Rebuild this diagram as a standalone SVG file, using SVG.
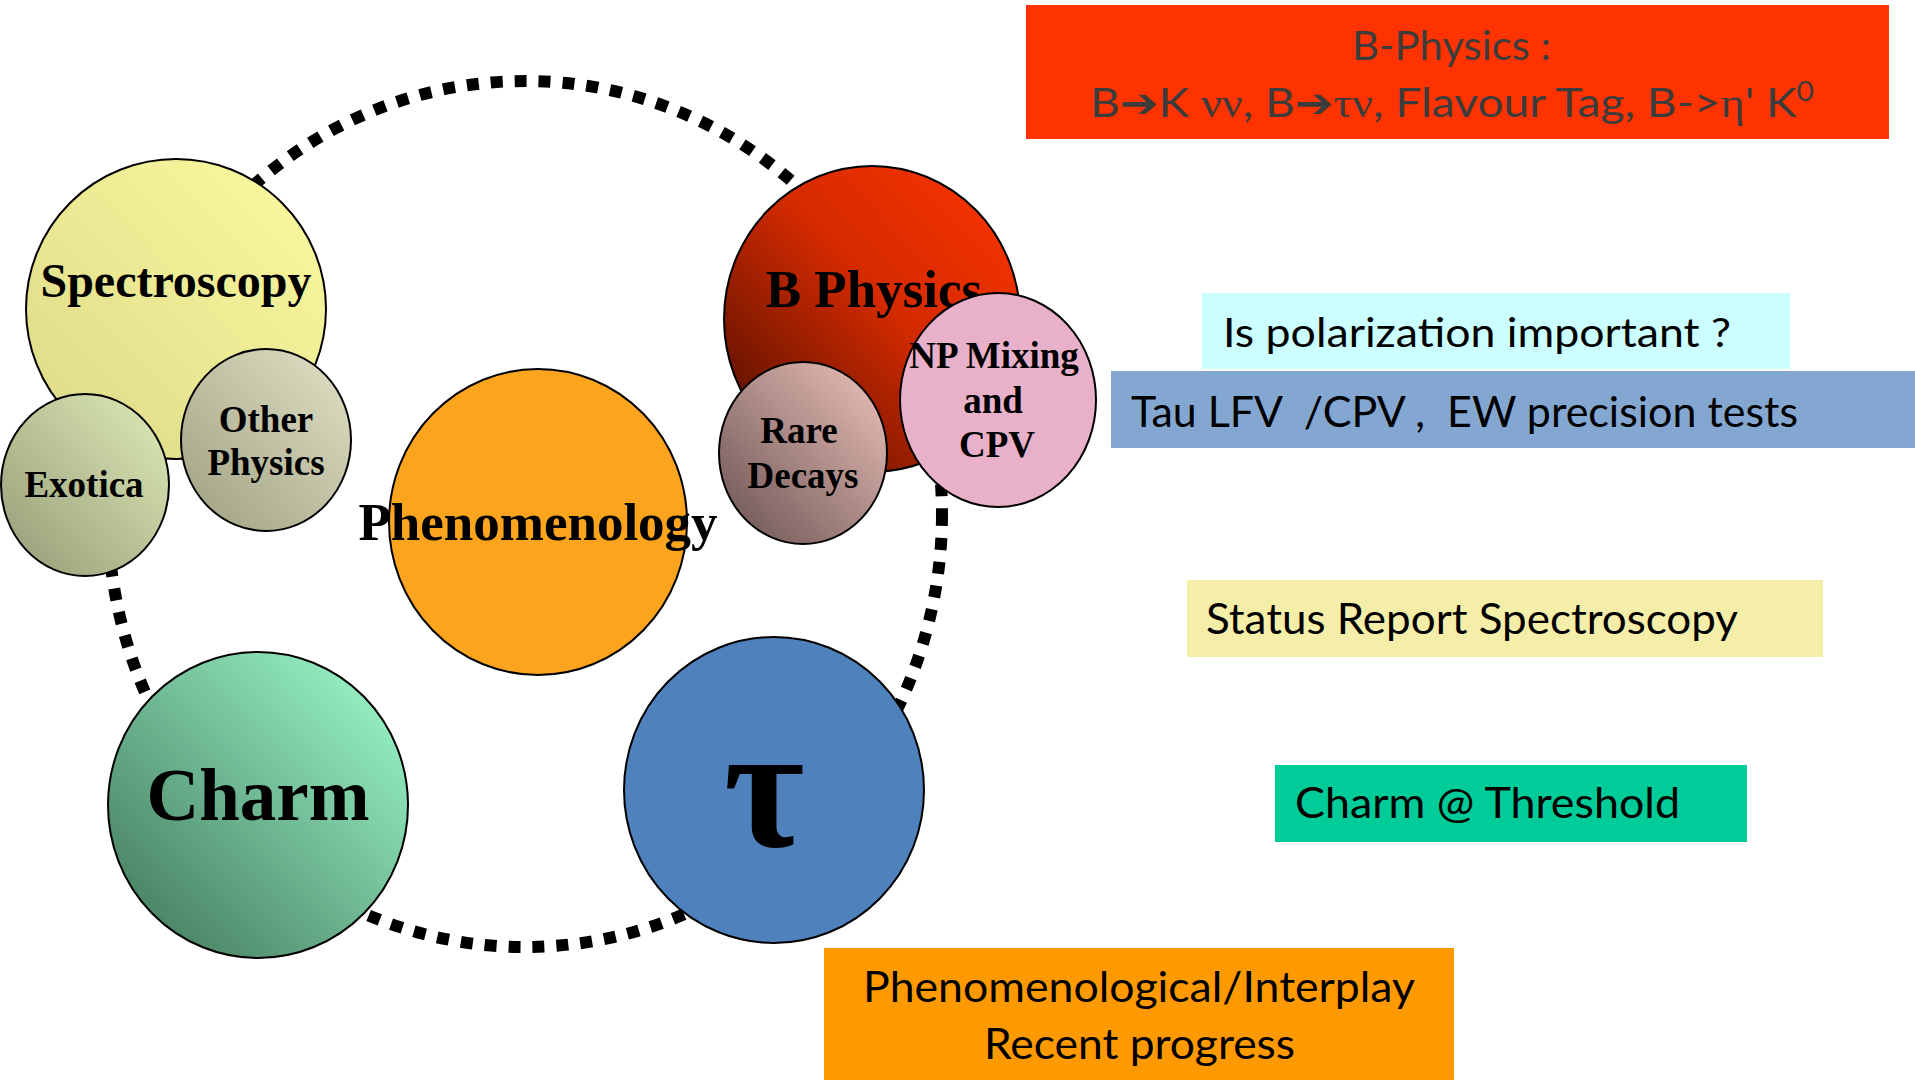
<svg xmlns="http://www.w3.org/2000/svg" width="1915" height="1080" viewBox="0 0 1915 1080">
<style>
.node{stroke:#000;stroke-width:2}
.ct{font-family:"Liberation Serif","Times New Roman",serif;font-weight:bold;fill:#000;text-anchor:middle}
.bt{font-family:Lato,"Open Sans",sans-serif;fill:#000;white-space:pre}
.rt{font-family:Lato,"Open Sans",sans-serif;fill:#3c3c3c;white-space:pre}
.gk{font-family:"Liberation Serif","Times New Roman",serif}
.ar{font-family:"DejaVu Sans",sans-serif}
</style>
<defs>
<linearGradient id="gSpec" x1="1" y1="0" x2="0" y2="1"><stop offset="0" stop-color="#fbfb9f"/><stop offset="1" stop-color="#dcd888"/></linearGradient>
<linearGradient id="gOther" x1="1" y1="0" x2="0" y2="1"><stop offset="0" stop-color="#e2e2c8"/><stop offset="1" stop-color="#9e9e80"/></linearGradient>
<linearGradient id="gExo" x1="1" y1="0" x2="0" y2="1"><stop offset="0" stop-color="#e0ecb8"/><stop offset="1" stop-color="#949a76"/></linearGradient>
<linearGradient id="gB" x1="1" y1="0" x2="0" y2="1"><stop offset="0" stop-color="#ff3500"/><stop offset="0.45" stop-color="#d42a00"/><stop offset="1" stop-color="#3e0c00"/></linearGradient>
<linearGradient id="gRare" x1="1" y1="0" x2="0" y2="1"><stop offset="0" stop-color="#f0c4bc"/><stop offset="1" stop-color="#665050"/></linearGradient>
<linearGradient id="gCharm" x1="1" y1="0" x2="0" y2="1"><stop offset="0" stop-color="#a0ffd0"/><stop offset="1" stop-color="#3e7256"/></linearGradient>
</defs>
<rect width="1915" height="1080" fill="#fff"/>

<g id="connectors">
<ellipse cx="525" cy="514" rx="417" ry="433" fill="none" stroke="#000" stroke-width="12" stroke-dasharray="12 12"/>
</g>

<g id="spectroscopy">
<circle class="node" cx="176" cy="309" r="150" fill="url(#gSpec)"/>
<text class="ct" x="176" y="297" font-size="48">Spectroscopy</text>
</g>
<g id="other-physics">
<ellipse class="node" cx="266" cy="440" rx="85" ry="91" fill="url(#gOther)"/>
<text class="ct" x="266" y="432" font-size="37">Other</text>
<text class="ct" x="266" y="475" font-size="37">Physics</text>
</g>
<g id="exotica">
<ellipse class="node" cx="85" cy="485" rx="84" ry="91" fill="url(#gExo)"/>
<text class="ct" x="84" y="497" font-size="37">Exotica</text>
</g>
<g id="phenomenology">
<ellipse class="node" cx="538" cy="522" rx="149" ry="153" fill="#fca41e"/>
<text class="ct" x="538" y="540" font-size="53">Phenomenology</text>
</g>
<g id="b-physics">
<ellipse class="node" cx="872" cy="319" rx="148" ry="153" fill="url(#gB)"/>
<text class="ct" x="874" y="307" font-size="53">B Physics</text>
</g>
<g id="rare-decays">
<ellipse class="node" cx="803" cy="453" rx="84" ry="91" fill="url(#gRare)"/>
<text class="ct" x="799" y="443" font-size="37">Rare</text>
<text class="ct" x="803" y="488" font-size="37">Decays</text>
</g>
<g id="np-mixing">
<ellipse class="node" cx="998" cy="400" rx="98" ry="107" fill="#e9b1c9"/>
<text class="ct" x="994" y="368" font-size="37">NP Mixing</text>
<text class="ct" x="993" y="413" font-size="37">and</text>
<text class="ct" x="997" y="457" font-size="37">CPV</text>
</g>
<g id="charm">
<ellipse class="node" cx="258" cy="805" rx="150" ry="153" fill="url(#gCharm)"/>
<text class="ct" x="258" y="820" font-size="73">Charm</text>
</g>
<g id="tau">
<ellipse class="node" cx="774" cy="790" rx="150" ry="153" fill="#4f81bd"/>
<text class="ct" x="764" y="846" font-size="175">τ</text>
</g>

<g id="box-bphysics">
<rect x="1026" y="5" width="863" height="134" fill="#ff3300"/>
<text class="rt" x="1352" y="60" font-size="40" textLength="199" lengthAdjust="spacingAndGlyphs">B-Physics :</text>
<text class="rt" x="1090" y="117" font-size="40" textLength="724" lengthAdjust="spacingAndGlyphs">B<tspan class="ar">➔</tspan>K <tspan class="gk">νν</tspan>, B<tspan class="ar">➔</tspan><tspan class="gk">τν</tspan>, Flavour Tag, B-&gt;<tspan class="gk">η</tspan>' K<tspan font-size="26" dy="-16">0</tspan></text>
</g>
<g id="box-polarization">
<rect x="1202" y="293" width="588" height="76" fill="#ccffff"/>
<text class="bt" x="1223" y="347" font-size="40" textLength="508" lengthAdjust="spacingAndGlyphs">Is polarization important ?</text>
</g>
<g id="box-tau">
<rect x="1111" y="371" width="804" height="77" fill="#84a7d1"/>
<text class="bt" x="1131" y="427" font-size="42" textLength="667" lengthAdjust="spacingAndGlyphs">Tau LFV  /CPV ,  EW precision tests</text>
</g>
<g id="box-spectroscopy">
<rect x="1187" y="580" width="636" height="77" fill="#f5eea8"/>
<text class="bt" x="1206" y="634" font-size="42" textLength="532" lengthAdjust="spacingAndGlyphs">Status Report Spectroscopy</text>
</g>
<g id="box-charm">
<rect x="1275" y="765" width="472" height="77" fill="#00cc99"/>
<text class="bt" x="1295" y="818" font-size="42" textLength="385" lengthAdjust="spacingAndGlyphs">Charm @ Threshold</text>
</g>
<g id="box-pheno">
<rect x="824" y="948" width="630" height="132" fill="#ff9900"/>
<text class="bt" x="863" y="1002" font-size="42" textLength="552" lengthAdjust="spacingAndGlyphs">Phenomenological/Interplay</text>
<text class="bt" x="984" y="1059" font-size="42" textLength="311" lengthAdjust="spacingAndGlyphs">Recent progress</text>
</g>
</svg>
